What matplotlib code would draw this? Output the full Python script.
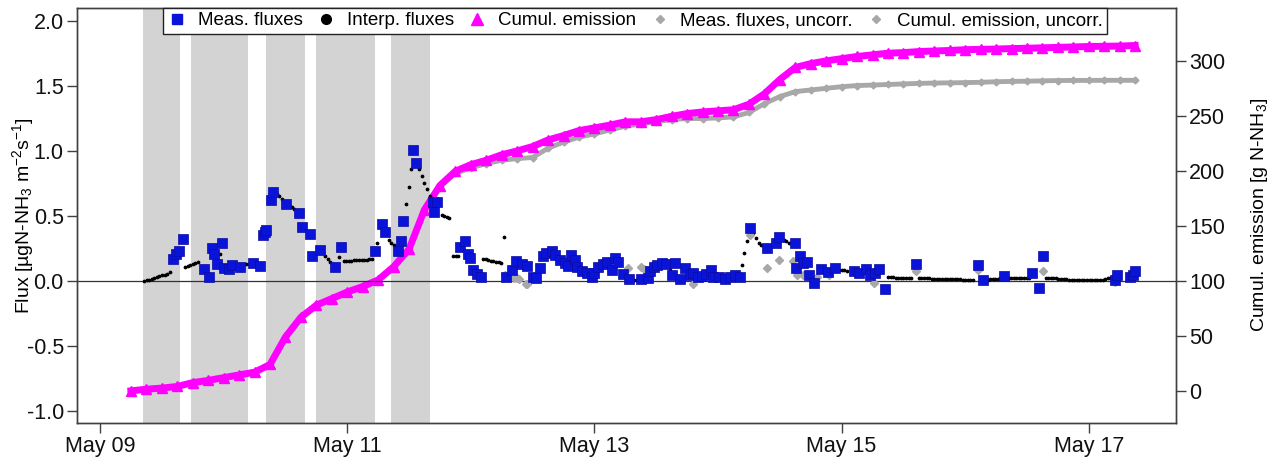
import datetime
import numpy as np
import matplotlib
matplotlib.use("Agg")
import matplotlib.pyplot as plt
import matplotlib.dates as mdates
from matplotlib.lines import Line2D
from matplotlib.ticker import FixedLocator, FormatStrFormatter

plt.rcParams['font.family'] = ['Liberation Sans', 'DejaVu Sans']
plt.rcParams['mathtext.fontset'] = 'custom'
plt.rcParams['mathtext.rm'] = 'Liberation Sans'
plt.rcParams['mathtext.it'] = 'Liberation Sans:italic'
plt.rcParams['mathtext.bf'] = 'Liberation Sans:bold'
plt.rcParams['axes.unicode_minus'] = False

# ---------------- data (time in days after May 09 00:00) ----------------
band_start = [0.351, 0.733, 1.346, 1.744, 2.358]
band_end = [0.650, 1.200, 1.661, 2.227, 2.666]

meas_t = [0.589, 0.615, 0.642, 0.669, 0.842, 0.880, 0.904, 0.920, 0.945, 0.988,
          1.006, 1.047, 1.069, 1.136, 1.239, 1.298, 1.322, 1.333, 1.344, 1.385,
          1.403, 1.508, 1.611, 1.636, 1.698, 1.717, 1.781, 1.905, 1.948, 2.223,
          2.283, 2.302, 2.407, 2.431, 2.450, 2.535, 2.554, 2.690, 2.700, 2.725,
          2.913, 2.955, 2.974, 2.996, 3.020, 3.050, 3.080, 3.285, 3.330, 3.366,
          3.410, 3.457, 3.506, 3.530, 3.563, 3.585, 3.610, 3.657, 3.684, 3.719,
          3.760, 3.790, 3.810, 3.840, 3.860, 3.900, 3.940, 3.980, 4.000, 4.030,
          4.070, 4.100, 4.140, 4.170, 4.190, 4.230, 4.280, 4.380, 4.430, 4.450,
          4.480, 4.510, 4.550, 4.580, 4.630, 4.650, 4.690, 4.730, 4.770, 4.800,
          4.840, 4.870, 4.900, 4.940, 4.960, 5.010, 5.060, 5.100, 5.140, 5.180,
          5.255, 5.400, 5.470, 5.490, 5.620, 5.630, 5.660, 5.690, 5.720, 5.740,
          5.780, 5.830, 5.890, 5.950, 6.100, 6.140, 6.200, 6.230, 6.270, 6.300,
          6.350, 6.600, 7.100, 7.140, 7.310, 7.540, 7.600, 7.630, 8.210, 8.230,
          8.330, 8.360, 8.370]
meas_f = [0.172, 0.208, 0.234, 0.320, 0.090, 0.028, 0.255, 0.210, 0.130, 0.290,
          0.098, 0.090, 0.123, 0.105, 0.140, 0.115, 0.355, 0.375, 0.393, 0.620,
          0.687, 0.594, 0.522, 0.417, 0.365, 0.190, 0.239, 0.108, 0.265, 0.231,
          0.440, 0.378, 0.231, 0.309, 0.458, 1.003, 0.910, 0.610, 0.530, 0.604,
          0.265, 0.310, 0.208, 0.175, 0.085, 0.054, 0.033, 0.033, 0.085, 0.154,
          0.129, 0.116, 0.033, 0.026, 0.098, 0.193, 0.218, 0.231, 0.200, 0.162,
          0.137, 0.116, 0.200, 0.162, 0.106, 0.080, 0.059, 0.033, 0.059, 0.106,
          0.131, 0.149, 0.085, 0.175, 0.149, 0.054, 0.013, 0.013, 0.021, 0.080,
          0.106, 0.123, 0.141, 0.131, 0.046, 0.141, 0.013, 0.098, 0.046, 0.059,
          0.029, 0.039, 0.054, 0.085, 0.029, 0.033, 0.015, 0.033, 0.046, 0.029,
          0.411, 0.252, 0.290, 0.337, 0.290, 0.098, 0.193, 0.141, 0.149, 0.046,
          -0.013, 0.090, 0.072, 0.098, 0.080, 0.064, 0.090, 0.046, 0.064, 0.090,
          -0.064, 0.131, 0.121, 0.008, 0.041, 0.059, -0.056, 0.195, 0.008, 0.046,
          0.029, 0.046, 0.080]

uncorr_t = [3.277, 3.350, 3.370, 3.390, 3.450, 3.457, 4.275, 4.380, 4.400, 4.800,
            5.260, 5.400, 5.490, 5.610, 5.640, 5.690, 5.800, 5.900, 6.260, 6.600,
            7.100, 7.630, 8.210]
uncorr_f = [0.050, 0.023, 0.021, 0.013, -0.025, -0.025, 0.098, 0.106, 0.090, -0.023,
            0.355, 0.098, 0.162, 0.154, 0.046, 0.046, 0.033, 0.046, -0.018, 0.080,
            0.085, 0.080, -0.005]

# interpolated fluxes: segments at 30-min spacing
interp_start = [0.356, 0.688, 0.971, 1.097, 1.430, 1.530, 1.800, 1.930, 1.970,
                2.243, 2.335, 2.476, 2.583, 2.764, 2.858, 3.100, 3.270, 4.300,
                4.610, 5.190, 5.286, 5.530, 5.960, 6.375, 6.625, 7.160, 7.330,
                7.650, 7.840]
interp_vals = [
    [0.000, 0.005, 0.012, 0.018, 0.025, 0.030, 0.036, 0.043, 0.050, 0.058, 0.066],
    [0.105, 0.112, 0.120, 0.128, 0.136, 0.144],
    [0.208],
    [0.118, 0.122, 0.125, 0.128, 0.131, 0.134, 0.137],
    [0.665, 0.650, 0.630],
    [0.585, 0.570, 0.555, 0.540],
    [0.220, 0.195, 0.170, 0.150, 0.130],
    [0.183],
    [0.155, 0.156, 0.157, 0.158, 0.159, 0.160, 0.161, 0.162, 0.163, 0.164, 0.166, 0.168],
    [0.296],
    [0.316, 0.295, 0.278],
    [0.594, 0.723, 0.857],
    [0.857, 0.805, 0.754, 0.707, 0.656],
    [0.510, 0.503, 0.494, 0.484],
    [0.195, 0.195, 0.193],
    [0.170, 0.166, 0.162, 0.158, 0.154, 0.150, 0.146, 0.141],
    [0.337],
    [0.010, 0.010, 0.012],
    [0.085],
    [0.123, 0.218, 0.309],
    [0.368, 0.330, 0.296, 0.278],
    [0.316, 0.305, 0.296],
    [0.090, 0.088, 0.085, 0.082, 0.080],
    [0.030, 0.030, 0.028, 0.025, 0.022, 0.020, 0.020, 0.020, 0.020, 0.020],
    [0.020, 0.020, 0.020, 0.020, 0.020, 0.018, 0.018, 0.018, 0.018, 0.016, 0.016,
     0.016, 0.015, 0.015, 0.015, 0.015, 0.013, 0.012, 0.012, 0.010, 0.010, 0.010],
    [0.012, 0.012, 0.015, 0.015, 0.015, 0.018, 0.020],
    [0.020, 0.020, 0.020, 0.020, 0.020, 0.020, 0.020, 0.020, 0.020, 0.020],
    [0.020, 0.020, 0.020, 0.020, 0.020, 0.018, 0.018, 0.015, 0.015],
    [0.012, 0.012, 0.012, 0.010, 0.010, 0.010, 0.010, 0.010, 0.010, 0.010, 0.010,
     0.010, 0.010, 0.012, 0.015, 0.020, 0.025],
]

cum_t = [0.250, 0.375, 0.500, 0.625, 0.750, 0.875, 1.000, 1.125, 1.250, 1.375,
         1.500, 1.625, 1.750, 1.875, 2.000, 2.125, 2.250, 2.375, 2.500, 2.625,
         2.750, 2.875, 3.000, 3.125, 3.250, 3.375, 3.500, 3.625, 3.750, 3.875,
         4.000, 4.125, 4.250, 4.375, 4.500, 4.625, 4.750, 4.875, 5.000, 5.125,
         5.250, 5.375, 5.500, 5.625, 5.750, 5.875, 6.000, 6.125, 6.250, 6.375,
         6.500, 6.625, 6.750, 6.875, 7.000, 7.125, 7.250, 7.375, 7.500, 7.625,
         7.750, 7.875, 8.000, 8.125, 8.250, 8.375]
cum_corr = [0.0, 1.5, 2.5, 4.0, 7.5, 9.5, 12.0, 14.5, 17.0, 24.0,
            49.0, 67.0, 78.0, 84.0, 90.0, 95.0, 101.0, 113.0, 129.0, 165.0,
            187.0, 200.0, 206.0, 210.0, 215.0, 218.5, 222.5, 228.5, 232.5, 237.0,
            239.5, 242.0, 245.0, 245.0, 247.0, 250.0, 252.5, 254.0, 255.0, 256.0,
            261.0, 270.5, 283.5, 294.5, 298.0, 300.5, 302.5, 304.5, 306.0, 307.5,
            308.0, 309.0, 309.5, 310.0, 310.7, 311.0, 311.3, 311.7, 312.0, 312.4,
            312.8, 313.2, 313.6, 313.8, 314.0, 314.5]
cum_uncorr = [0.0, 1.5, 2.5, 4.0, 7.5, 9.5, 12.0, 14.5, 17.0, 24.0,
              49.0, 67.0, 78.0, 84.0, 90.0, 95.0, 101.0, 113.0, 129.0, 165.0,
              186.0, 198.0, 203.0, 207.0, 210.0, 211.5, 212.5, 221.0, 226.5, 231.0,
              234.0, 237.5, 241.0, 243.0, 245.0, 247.0, 248.0, 248.0, 248.5, 249.5,
              253.5, 261.5, 268.0, 272.5, 274.0, 275.5, 277.0, 278.0, 278.5, 279.0,
              279.5, 280.0, 280.3, 280.5, 280.7, 281.0, 281.5, 281.8, 282.0, 282.3,
              282.6, 282.7, 282.7, 282.8, 282.8, 282.8]

flux_ticks = [-1.0, -0.5, 0.0, 0.5, 1.0, 1.5, 2.0]
cum_ticks = [0, 50, 100, 150, 200, 250, 300]
date_ticks = ["2014-05-09", "2014-05-11", "2014-05-13", "2014-05-15", "2014-05-17"]

# ---------------- plotting ----------------
base = mdates.date2num(datetime.datetime(2014, 5, 9))
T = lambda arr: base + np.asarray(arr, dtype=float)

interp_t, interp_f = [], []
for s, vals in zip(interp_start, interp_vals):
    for i, v in enumerate(vals):
        interp_t.append(s + i / 48.0)
        interp_f.append(v)

BLUE = '#0a14d8'
MAG = '#ff00ff'
GREY = '#a8a8a8'
BAND = '#d3d3d3'
AX = '#404040'

fig = plt.figure(figsize=(12.8, 4.59), dpi=100)
ax = fig.add_axes([0.0602, 0.0784, 0.8586, 0.905])
ax2 = ax.twinx()
ax.set_zorder(ax2.get_zorder() + 1)
ax.patch.set_visible(False)

for s, e in zip(band_start, band_end):
    ax2.axvspan(T(s), T(e), color=BAND, lw=0, zorder=0)

ax2.plot(T(cum_t), cum_uncorr, color=GREY, lw=3.5, marker='D', ms=3.5,
         mec=GREY, mfc=GREY, zorder=2)
ax2.plot(T(cum_t), cum_corr, color=MAG, lw=5, marker='^', ms=7,
         mec=MAG, mfc=MAG, zorder=3)

ax.axhline(0, color='#333333', lw=0.9, zorder=1)
ax.plot(T(interp_t), interp_f, ls='none', marker='o', ms=1.7, color='black', zorder=2)
ax.plot(T(uncorr_t), uncorr_f, ls='none', marker='D', ms=4.2, color=GREY, zorder=3)
ax.plot(T(meas_t), meas_f, ls='none', marker='s', ms=6.8, mfc=BLUE, mec='#0a0aa0',
        mew=0.5, zorder=4)

ax.set_xlim(base - 0.186, base + 8.706)
ax.set_ylim(-1.09, 2.10)
ax2.set_ylim(-29.3, 349.0)

ax.xaxis.set_major_locator(FixedLocator([mdates.datestr2num(d) for d in date_ticks]))
ax.xaxis.set_major_formatter(mdates.DateFormatter('%b %d'))
ax.yaxis.set_major_locator(FixedLocator(flux_ticks))
ax.yaxis.set_major_formatter(FormatStrFormatter('%.1f'))
ax2.yaxis.set_major_locator(FixedLocator(cum_ticks))

for a in (ax, ax2):
    for sp in a.spines.values():
        sp.set_color(AX)
        sp.set_linewidth(1.0)
    a.tick_params(direction='out', length=7, width=1.0, color=AX,
                  labelsize=15.5, labelcolor='#111111', pad=2.5)

ax.set_ylabel(r'Flux [µgN-NH$_3$ m$^{-2}$s$^{-1}$]', fontsize=14)
ax.yaxis.set_label_coords(-0.0375, 0.5)
ax2.set_ylabel(r'Cumul. emission [g N-NH$_3$]', fontsize=14)
ax2.yaxis.set_label_coords(1.066, 0.5)

handles = [
    Line2D([], [], ls='none', marker='s', ms=7, mfc=BLUE, mec=BLUE),
    Line2D([], [], ls='none', marker='o', ms=7, color='black'),
    Line2D([], [], ls='none', marker='^', ms=8, color=MAG),
    Line2D([], [], ls='none', marker='D', ms=4, color=GREY),
    Line2D([], [], ls='none', marker='D', ms=4, color=GREY),
]
labels = ['Meas. fluxes', 'Interp. fluxes', 'Cumul. emission',
          'Meas. fluxes, uncorr.', 'Cumul. emission, uncorr.']
leg = ax.legend(handles, labels, loc='upper center', bbox_to_anchor=(0.508, 1.0),
                ncol=5, fontsize=13.5, frameon=True, fancybox=False,
                framealpha=1, edgecolor='#222222', borderaxespad=0,
                handlelength=1.0, handletextpad=0.6, columnspacing=0.75,
                borderpad=0.25)
leg.get_frame().set_linewidth(1.0)

fig.savefig('out.png', dpi=100)
